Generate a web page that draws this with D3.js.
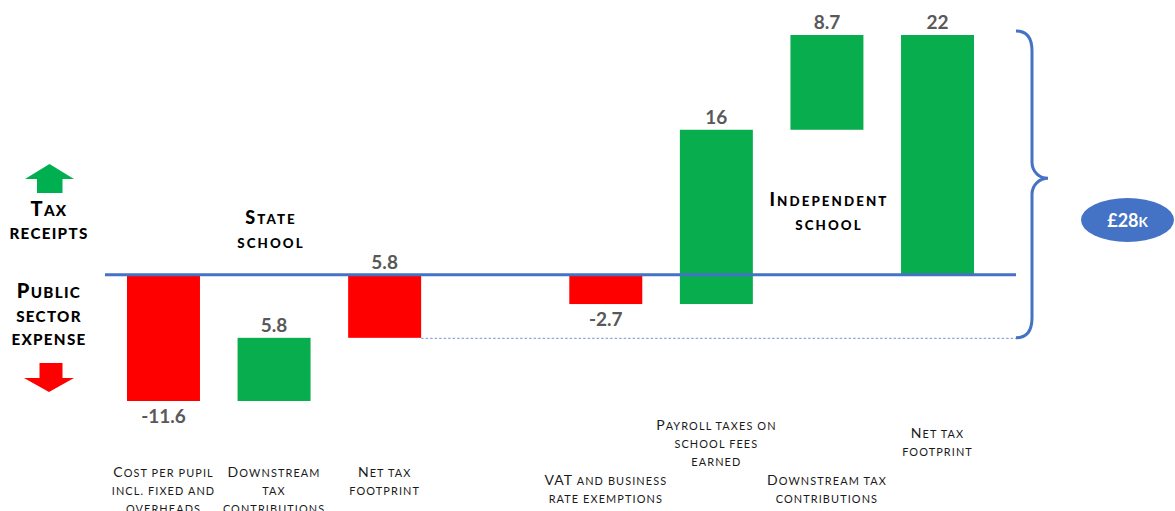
<!DOCTYPE html>
<html><head><meta charset="utf-8">
<script src="https://cdn.jsdelivr.net/npm/d3@7"></script>
<style>
html,body{margin:0;padding:0;background:#fff;}
svg{display:block;}
text{font-family:Lato,"Open Sans",sans-serif;}
.lc{text-transform:uppercase;}
</style></head><body>
<svg id="chart" width="1175" height="511"></svg>
<script>
// ---- data ----
const categories = ["cost","stateDown","stateNet","gap","vat","payroll","indDown","indNet"];
const groups = ["state","state","state",null,"independent","independent","independent","independent"];
const values = [-11.6, 5.8, -5.8, null, -2.7, 16, 8.7, 22];
const kinds = ["delta","delta","total",null,"delta","delta","delta","total"];
const valueLabels = ["-11.6","5.8","5.8","","-2.7","16","8.7","22"];
const categoryLabels = [
  ["Cost per pupil","incl. fixed and","overheads"],
  ["Downstream","tax","contributions"],
  ["Net tax","footprint"],
  [],
  ["VAT and business","rate exemptions"],
  ["Payroll taxes on","school fees","earned"],
  ["Downstream tax","contributions"],
  ["Net tax","footprint"]
];
const groupTitles = [["State","school"],["Independent","school"]];
const sideLabelsUp = ["Tax","receipts"];
const sideLabelsDown = ["Public","sector","expense"];
const totalLabel = "£28k";
const yDomain = [-11.6, 22];

// ---- layout ----
const svg = d3.select("#chart");
const x = d3.scaleBand().domain(categories).range([108.2, 992.8]).paddingInner(0.34).paddingOuter(0.17);
const y = d3.scaleLinear().domain(yDomain).range([401, 35]);

// small caps helper: lowercase runs drawn as uppercase at reduced size
function smallCapsLine(textSel, str, cx, yy, size, ratio) {
  const runs = str.match(/[a-z.\s]+|[^a-z.\s]+/g) || [];
  let first = true;
  runs.forEach(r => {
    const isLower = /[a-z]/.test(r) || (/^[.\s]+$/.test(r));
    const ts = textSel.append("tspan").text(r)
      .attr("font-size", isLower ? size*ratio : size);
    if (isLower) ts.attr("class","lc");
    if (first) { ts.attr("x", cx).attr("y", yy); first = false; }
  });
}

// waterfall computation
let run = 0, prevGroup = null;
const bars = categories.map((c,i)=>{
  if (kinds[i] === null) return null;
  if (groups[i] !== prevGroup) { run = 0; prevGroup = groups[i]; }
  let start, end;
  if (kinds[i] === "total") { start = 0; end = values[i]; }
  else { start = run; end = run + values[i]; run = end; }
  return {c, i, start, end, v: values[i], kind: kinds[i], label: valueLabels[i]};
}).filter(d=>d);

const GREEN = "#08AE4E", RED = "#FF0000", BLUE = "#4472C4";

// bars
svg.append("g").selectAll("rect").data(bars).join("rect")
  .attr("x", d=>x(d.c)).attr("width", x.bandwidth())
  .attr("y", d=>y(Math.max(d.start,d.end)))
  .attr("height", d=>Math.abs(y(d.start)-y(d.end)))
  .attr("fill", d=>d.v<0?RED:GREEN);

// dotted line from state net total to brace
const stateNet = bars.find(d=>d.c==="stateNet");
svg.append("line")
  .attr("x1", x("stateNet")+x.bandwidth()).attr("x2", 1016)
  .attr("y1", y(stateNet.end)+0.5).attr("y2", y(stateNet.end)+0.5)
  .attr("stroke", "#8FAADC").attr("stroke-width", 1.2).attr("stroke-dasharray", "2.5,2");

// baseline
svg.append("line").attr("x1",105).attr("x2",1016).attr("y1",y(0)).attr("y2",y(0))
  .attr("stroke",BLUE).attr("stroke-width",3);

// value labels
svg.append("g").selectAll("text").data(bars).join("text")
  .attr("x", d=>x(d.c)+x.bandwidth()/2)
  .attr("y", d=> (d.kind==="delta" && d.v<0) ? y(Math.min(d.start,d.end))+22 : y(Math.max(d.start,d.end))-6)
  .attr("text-anchor","middle")
  .attr("font-weight","bold")
  .attr("font-size",19).attr("fill","#595959")
  .text(d=>d.label);

// category labels
const labelTop = [477,477,477,null,485,430,485,438];
categoryLabels.forEach((lines,i)=>{
  if (!lines.length) return;
  lines.forEach((l,k)=>{
    const t = svg.append("text").attr("text-anchor","middle").attr("letter-spacing",1.1).attr("fill","#1a1a1a");
    smallCapsLine(t, l, x(categories[i])+x.bandwidth()/2, labelTop[i]+k*18, 14, 0.78);
  });
});

// group titles
const titlePos = [{cx: 271, y: 224},{cx: 829, y: 206}];
groupTitles.forEach((lines,g)=>{
  lines.forEach((l,k)=>{
    const t = svg.append("text").attr("text-anchor","middle")
      .attr("font-weight","900").attr("letter-spacing",2.1).attr("fill","#000");
    smallCapsLine(t, l, titlePos[g].cx, titlePos[g].y+k*23.5, 18, 0.74);
  });
});

// side labels
sideLabelsUp.forEach((l,k)=>{
  const t = svg.append("text").attr("text-anchor","middle").attr("font-weight","900").attr("letter-spacing",1.3).attr("fill","#000");
  smallCapsLine(t, l, 49, 216+k*23, 20, 0.76);
});
sideLabelsDown.forEach((l,k)=>{
  const t = svg.append("text").attr("text-anchor","middle").attr("font-weight","900").attr("letter-spacing",1.3).attr("fill","#000");
  smallCapsLine(t, l, 49, 298+k*23.5, 20, 0.76);
});

// arrows
svg.append("path").attr("d","M49.5,164 L74,179 L62.5,179 L62.5,193 L37,193 L37,179 L25,179 Z").attr("fill","#00B050");
svg.append("path").attr("d","M39.5,363 L62.5,363 L62.5,378 L74,378 L49,392 L24,378 L39.5,378 Z").attr("fill","#FF0000");

// brace
const braceTop = y(22)-4, braceBottom = y(stateNet.end), tip = braceTop + (braceBottom-braceTop)*0.48;
const bx0 = 1016, bx1 = 1032, bx2 = 1048;
svg.append("path")
  .attr("d", `M${bx0},${braceTop} C${bx1-4},${braceTop} ${bx1},${braceTop+8} ${bx1},${braceTop+20} L${bx1},${tip-16} C${bx1},${tip-6} ${bx2-8},${tip} ${bx2},${tip} C${bx2-8},${tip} ${bx1},${tip+6} ${bx1},${tip+16} L${bx1},${braceBottom-20} C${bx1},${braceBottom-8} ${bx1-4},${braceBottom} ${bx0},${braceBottom}`)
  .attr("fill","none").attr("stroke",BLUE).attr("stroke-width",3);

// total ellipse
svg.append("ellipse").attr("cx",1127.5).attr("cy",220).attr("rx",46.5).attr("ry",22).attr("fill",BLUE);
const tl = svg.append("text").attr("text-anchor","middle").attr("font-weight","bold").attr("fill","#fff");
smallCapsLine(tl, totalLabel, 1127.5, 226.5, 18, 0.75);
</script>
</body></html>
